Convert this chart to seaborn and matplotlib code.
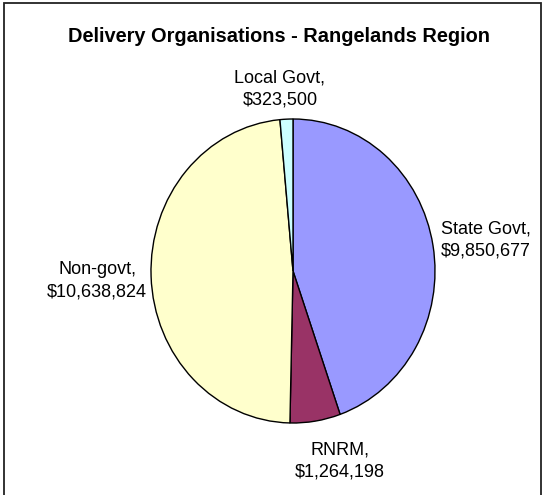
import matplotlib
matplotlib.use("Agg")
import matplotlib.pyplot as plt
from matplotlib.patches import Rectangle
import seaborn as sns

# Funding by delivery organisation type
categories = ["State Govt", "RNRM", "Non-govt", "Local Govt"]
amounts = [9850677, 1264198, 10638824, 323500]
slice_colors = ["#9999FF", "#993366", "#FFFFCC", "#CCFFFF"]
title = "Delivery Organisations - Rangelands Region"

sns.set_theme(style="white")
plt.rcParams["font.family"] = ["Liberation Sans", "DejaVu Sans"]

W_PX, H_PX = 547, 495
fig = plt.figure(figsize=(W_PX / 100, H_PX / 100), dpi=100)
fig.patch.set_facecolor("white")

# pie occupies x 151..435, y 119..423 (pixels from top-left)
px_l, px_r, py_t, py_b = 151, 435, 119, 423
ax = fig.add_axes([px_l / W_PX, 1 - py_b / H_PX,
                   (px_r - px_l) / W_PX, (py_b - py_t) / H_PX])

palette = sns.color_palette(slice_colors)
wedges, _ = ax.pie(amounts, colors=palette, startangle=90, counterclock=False,
                   wedgeprops=dict(edgecolor="black", linewidth=1.0))
for w in wedges:
    w.set_clip_on(False)
ax.set_aspect("auto")
ax.set_xlim(-1, 1)
ax.set_ylim(-1, 1)
ax.axis("off")

# data label positions (centre x, last-line baseline y) in pie coordinates
label_pos = {
    "State Govt": (1.356, 0.105),
    "RNRM": (0.330, -1.353),
    "Non-govt": (-1.380, -0.165),
    "Local Govt": (-0.092, 1.097),
}
for cat, val in zip(categories, amounts):
    x, y = label_pos[cat]
    ax.text(x, y, f"{cat},\n${val:,}", ha="center", va="baseline",
            multialignment="center", fontsize=13, color="black",
            linespacing=1.38)

fig.text(279 / W_PX, 1 - 42 / H_PX, title, ha="center", va="baseline",
         fontsize=14.4, fontweight="bold", color="black")

# chart area border
fig.patches.append(Rectangle((4 / W_PX, -0.01), (541 - 4) / W_PX,
                             1 - 3 / H_PX + 0.01, transform=fig.transFigure,
                             fill=False, edgecolor="#222222", linewidth=1.3))

fig.savefig("out.png", dpi=100)
